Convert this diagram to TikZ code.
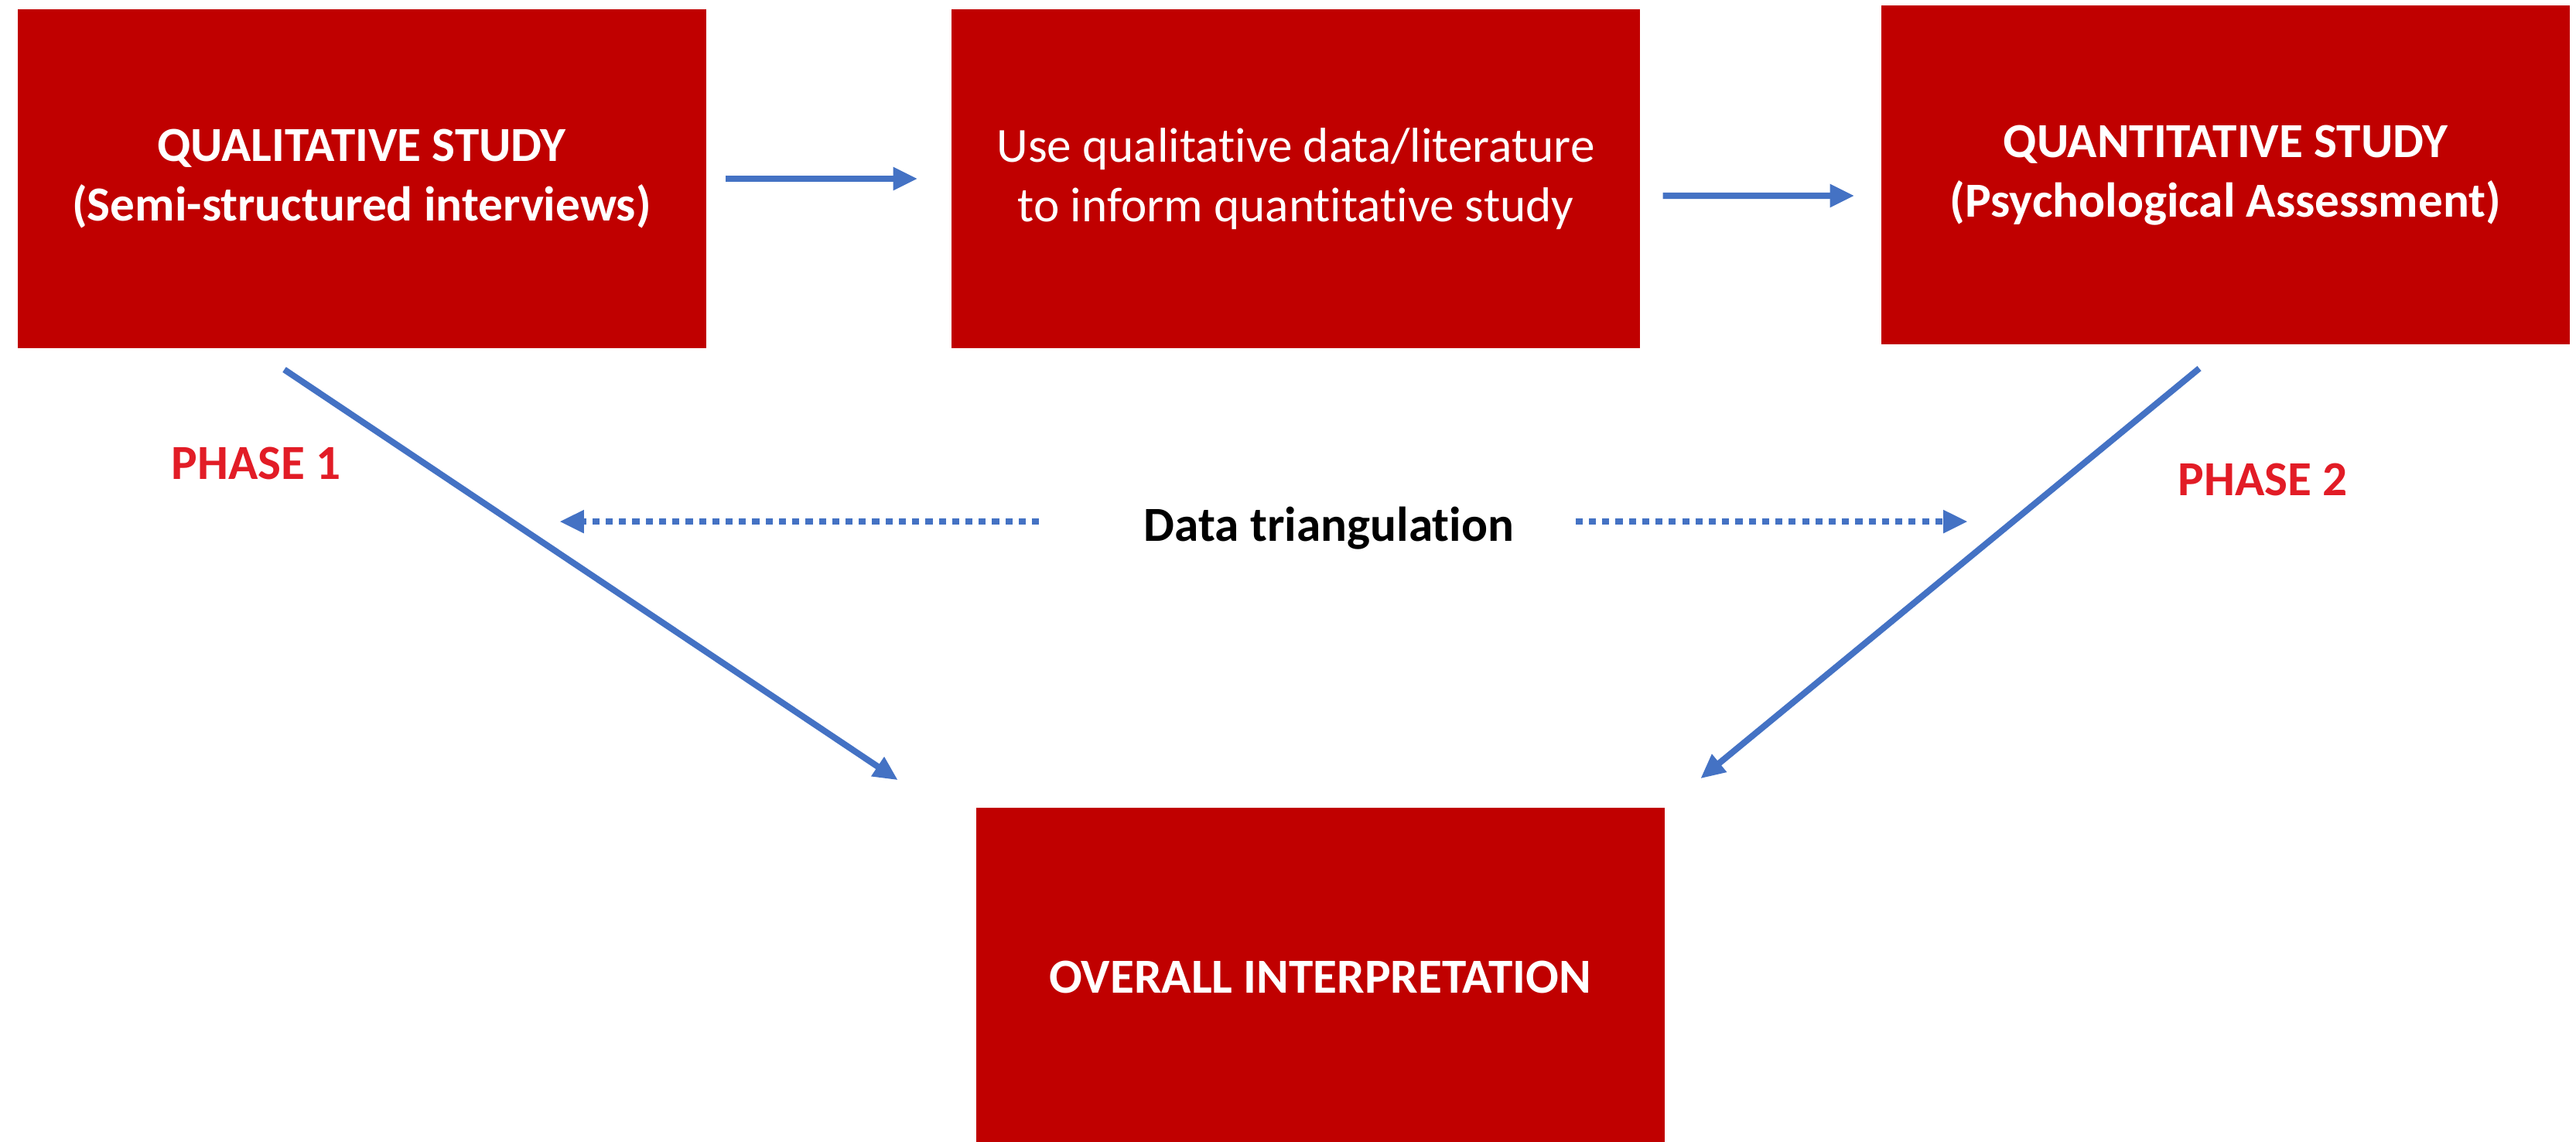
\documentclass[tikz,border=0pt]{standalone}
\usepackage{fontspec}
\setmainfont{Carlito}[Ligatures=NoCommon]
\usetikzlibrary{arrows.meta}
\definecolor{boxred}{RGB}{192,0,0}
\definecolor{phasered}{RGB}{226,28,38}
\definecolor{arrowblue}{RGB}{68,114,196}
\begin{document}
\begin{tikzpicture}[
    stage/.style={fill=boxred, text=white, minimum width=8.9cm, minimum height=4.38cm,
      inner sep=0pt, align=center, font=\fontsize{18}{22}\selectfont},
    mainstage/.style={stage, font=\fontsize{18}{22}\selectfont\bfseries},
    phase/.style={text=phasered, anchor=base, inner sep=0pt, font=\fontsize{18}{22}\selectfont\bfseries},
    flow/.style={draw=arrowblue, line width=2.3pt, -{Triangle[length=9pt,width=8pt]}},
    triflow/.style={draw=arrowblue, line width=2.2pt, dash pattern=on 2.6pt off 2.3pt,
      -{Triangle[length=9pt,width=8pt]}}
  ]
    \useasboundingbox (0,0) rectangle (33.3,14.76);
    \node[mainstage] (qual) at (4.675,12.45) {QUALITATIVE STUDY\\(Semi-structured interviews)};
    \node[stage] (mid) at (16.75,12.45) {Use qualitative data/literature\\to inform quantitative study};
    \node[mainstage] (quant) at (28.77,12.495) {QUANTITATIVE STUDY\\(Psychological Assessment)};
    \node[mainstage] (overall) at (17.065,2.13) {OVERALL INTERPRETATION};
    \node[phase] (ph1) at (3.31,8.56) {PHASE 1};
    \node[phase] (ph2) at (29.25,8.35) {PHASE 2};
    \node[anchor=base, inner sep=0pt, font=\fontsize{18}{22}\selectfont\bfseries] (tri) at (17.18,7.76) {Data triangulation};
    \draw[flow] ([xshift=2.5mm]qual.east) -- ([xshift=-4.3mm]mid.west);
    \draw[flow] ([xshift=2.9mm,yshift=-2.2mm]mid.east) -- ([xshift=-3.4mm,yshift=-2.65mm]quant.west);
    \draw[flow] ([xshift=-10mm,yshift=-2.7mm]qual.south) -- ([xshift=-10mm,yshift=3.5mm]overall.north west);
    \draw[flow] ([xshift=-3.4mm,yshift=-3mm]quant.south) -- ([xshift=4.6mm,yshift=3.7mm]overall.north east);
    \draw[triflow] ([xshift=-13.5mm,yshift=0.9mm]tri.west) -- ([xshift=-75.5mm,yshift=0.9mm]tri.west);
    \draw[triflow] ([xshift=7.9mm,yshift=0.9mm]tri.east) -- ([xshift=58.6mm,yshift=0.9mm]tri.east);
\end{tikzpicture}
\end{document}
